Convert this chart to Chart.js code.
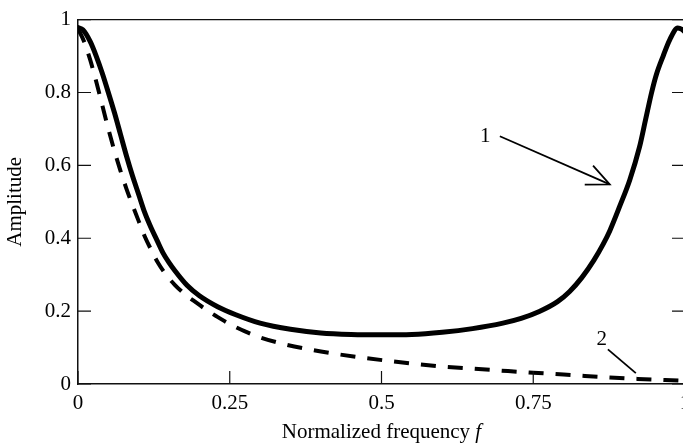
<!DOCTYPE html>
<html><head><meta charset="utf-8">
<script src="https://cdn.jsdelivr.net/npm/chart.js@4/dist/chart.umd.min.js"></script>
<style>
html,body{margin:0;padding:0;overflow:hidden;background:#fff}
#wrap{position:relative;width:700px;height:445px}
</style></head>
<body><div id="wrap"><canvas id="c"></canvas></div>
<script>
// ---- data ----
const freqSolid = [0,0.008,0.02,0.03,0.04,0.05,0.06,0.07,0.08,0.09,0.10,0.11,0.12,0.13,0.14,0.15,0.16,0.18,0.20,0.23,0.26,0.30,0.35,0.40,0.45,0.50,0.55,0.60,0.65,0.70,0.73,0.76,0.79,0.81,0.83,0.85,0.865,0.876,0.893,0.909,0.925,0.935,0.945,0.953,0.964,0.975,0.988,0.995,1.0];
const ampSolid  = [0.978,0.972,0.94,0.9,0.853,0.80,0.745,0.685,0.625,0.57,0.52,0.47,0.43,0.395,0.36,0.333,0.31,0.27,0.242,0.212,0.19,0.167,0.15,0.14,0.136,0.135,0.136,0.142,0.152,0.167,0.18,0.199,0.226,0.254,0.292,0.34,0.383,0.42,0.49,0.56,0.65,0.725,0.8,0.85,0.9,0.945,0.977,0.973,0.966];
const freqDashed = [0,0.01,0.02,0.03,0.04,0.05,0.06,0.07,0.08,0.09,0.10,0.11,0.12,0.132,0.145,0.159,0.175,0.195,0.212,0.228,0.255,0.28,0.30,0.343,0.387,0.431,0.475,0.519,0.563,0.607,0.65,0.695,0.75,0.80,0.835,0.876,0.922,0.967,1.0];
const ampDashed  = [0.975,0.94,0.89,0.83,0.765,0.70,0.64,0.585,0.535,0.49,0.447,0.405,0.37,0.332,0.30,0.273,0.248,0.223,0.203,0.186,0.16,0.141,0.128,0.108,0.093,0.081,0.071,0.062,0.054,0.047,0.042,0.037,0.031,0.026,0.022,0.018,0.014,0.011,0.009];
const xTicks = [0,0.25,0.5,0.75,1];
const xTickLabels = ['0','0.25','0.5','0.75','1'];
const yTicks = [0,0.2,0.4,0.6,0.8,1];
const yTickLabels = ['0','0.2','0.4','0.6','0.8','1'];
const curveLabels = ['1','2'];
const xTitleMain = 'Normalized frequency ';
const xTitleVar = 'f';
const yTitle = 'Amplitude';

// ---- styling / layout ----
const FONT = "'Liberation Serif','Times New Roman',serif";
const FS = 21;
const TICK = 13;
const annot = {
  label1: {x:0.671, y:0.68},
  arrow1: {from:{x:0.695, y:0.68}, to:{x:0.876, y:0.548}},
  label2: {x:0.863, y:0.123},
  line2: {from:{x:0.873, y:0.095}, to:{x:0.919, y:0.030}}
};

const framePlugin = {
  id: 'frame',
  afterDraw(chart) {
    const {ctx, chartArea: a, scales: {x, y}} = chart;
    ctx.save();
    ctx.strokeStyle = '#111';
    ctx.lineWidth = 1.4;
    ctx.beginPath();
    ctx.moveTo(a.left, a.top); ctx.lineTo(a.right, a.top); ctx.lineTo(a.right, a.bottom);
    ctx.stroke();
    ctx.lineWidth = 1.2;
    ctx.beginPath();
    xTicks.forEach(v => { const p = x.getPixelForValue(v); ctx.moveTo(p, a.bottom); ctx.lineTo(p, a.bottom - TICK); });
    yTicks.forEach(v => { const p = y.getPixelForValue(v);
      ctx.moveTo(a.left, p); ctx.lineTo(a.left + TICK, p);
      ctx.moveTo(a.right, p); ctx.lineTo(a.right - TICK, p); });
    ctx.stroke();

    // annotations
    ctx.fillStyle = '#000';
    ctx.strokeStyle = '#000';
    ctx.font = FS + 'px ' + FONT;
    ctx.textAlign = 'center';
    ctx.textBaseline = 'middle';
    ctx.fillText(curveLabels[0], x.getPixelForValue(annot.label1.x), y.getPixelForValue(annot.label1.y));
    ctx.fillText(curveLabels[1], x.getPixelForValue(annot.label2.x), y.getPixelForValue(annot.label2.y));
    ctx.lineWidth = 1.8;
    const ax1 = x.getPixelForValue(annot.arrow1.from.x), ay1 = y.getPixelForValue(annot.arrow1.from.y);
    const ax2 = x.getPixelForValue(annot.arrow1.to.x), ay2 = y.getPixelForValue(annot.arrow1.to.y);
    ctx.beginPath(); ctx.moveTo(ax1, ay1); ctx.lineTo(ax2, ay2); ctx.stroke();
    const ang = Math.atan2(ay1 - ay2, ax1 - ax2);
    const hl = 25, ha = 24.5 * Math.PI / 180;
    ctx.beginPath();
    ctx.moveTo(ax2 + hl * Math.cos(ang + ha), ay2 + hl * Math.sin(ang + ha));
    ctx.lineTo(ax2, ay2);
    ctx.lineTo(ax2 + hl * Math.cos(ang - ha), ay2 + hl * Math.sin(ang - ha));
    ctx.stroke();
    ctx.beginPath();
    ctx.moveTo(x.getPixelForValue(annot.line2.from.x), y.getPixelForValue(annot.line2.from.y));
    ctx.lineTo(x.getPixelForValue(annot.line2.to.x), y.getPixelForValue(annot.line2.to.y));
    ctx.stroke();

    // x title with italic variable
    const fontN = FS + 'px ' + FONT, fontI = 'italic ' + FS + 'px ' + FONT;
    ctx.font = fontN; const w1 = ctx.measureText(xTitleMain).width;
    ctx.font = fontI; const w2 = ctx.measureText(xTitleVar).width;
    const cx = (a.left + a.right) / 2;
    const by = a.bottom + 54;
    ctx.textAlign = 'left'; ctx.textBaseline = 'alphabetic';
    ctx.font = fontN; ctx.fillText(xTitleMain, cx - (w1 + w2) / 2, by);
    ctx.font = fontI; ctx.fillText(xTitleVar, cx - (w1 + w2) / 2 + w1, by);
    ctx.restore();
  }
};

new Chart(document.getElementById('c'), {
  type: 'line',
  data: {
    datasets: [
      { label: '1', data: freqSolid.map((f, i) => ({x: f, y: ampSolid[i]})),
        borderColor: '#000', borderWidth: 5, pointRadius: 0, fill: false,
        cubicInterpolationMode: 'monotone', borderCapStyle: 'round', borderJoinStyle: 'round' },
      { label: '2', data: freqDashed.map((f, i) => ({x: f, y: ampDashed[i]})),
        borderColor: '#000', borderWidth: 4, pointRadius: 0, fill: false, borderDash: [15, 12],
        cubicInterpolationMode: 'monotone', borderCapStyle: 'butt' }
    ]
  },
  options: {
    responsive: true, maintainAspectRatio: false, animation: false,
    devicePixelRatio: 1,
    layout: { padding: { top: 15, right: 15, left: 0, bottom: 0 } },
    plugins: { legend: { display: false }, tooltip: { enabled: false }, title: { display: false } },
    scales: {
      x: {
        type: 'linear', min: 0, max: 1,
        afterBuildTicks: s => { s.ticks = xTicks.map(v => ({value: v})); },
        afterFit: s => { s.height = 61; },
        ticks: { color: '#000', padding: 7, maxRotation: 0, autoSkip: false,
          font: { family: FONT, size: FS },
          callback: v => { const i = xTicks.indexOf(v); return i >= 0 ? xTickLabels[i] : ''; } },
        grid: { display: false, drawTicks: false },
        border: { display: true, color: '#111', width: 1.5 }
      },
      y: {
        type: 'linear', min: 0, max: 1,
        afterBuildTicks: s => { s.ticks = yTicks.map(v => ({value: v})); },
        afterFit: s => { s.width = 78; },
        ticks: { color: '#000', padding: 7, font: { family: FONT, size: FS },
          callback: v => { const i = yTicks.indexOf(v); return i >= 0 ? yTickLabels[i] : ''; } },
        grid: { display: false, drawTicks: false },
        border: { display: true, color: '#111', width: 1.5 },
        title: { display: true, text: yTitle, color: '#000', padding: { top: 3, bottom: 0 },
          font: { family: FONT, size: FS } }
      }
    }
  },
  plugins: [framePlugin]
});
</script>
</body></html>
